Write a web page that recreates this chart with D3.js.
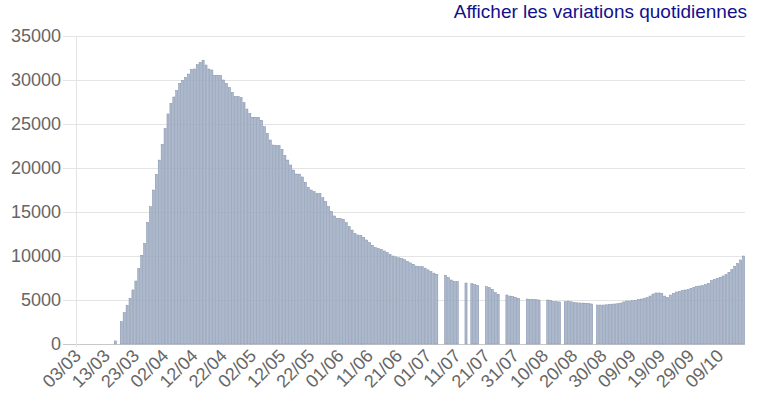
<!DOCTYPE html>
<html>
<head>
<meta charset="utf-8">
<script src="https://cdn.jsdelivr.net/npm/d3@7"></script>
<style>
  body { margin: 0; background: #fff; }
  svg { display: block; font-family: "Liberation Sans", Arial, sans-serif; }
</style>
</head>
<body>
<svg width="762" height="409"></svg>
<script>
// Daily hospitalised patients, one value per day from 03/03 (null = no report that day)
const valuesMar = [0, 0, 0, 0, 0, 0, 0, 0, 0, 0, 0, 0, 0, 350, 0, 2530, 3560, 4400, 5190, 6140,
  7160, 8600, 10080, 11440, 13830, 15600, 17500, 19280, 20900];
const valuesApr = [22690, 24500, 26140, 27350, 28070, 28790, 29620, 29960, 30300, 30680,
  31210, 31250, 31740, 32000, 32250, 31700, 31250, 31140, 30530, 30530,
  30530, 30000, 29620, 29130, 28600, 28140, 28140, 27990, 27420, 26700];
const valuesMay = [26210, 25760, 25760, 25760, 25420, 24690, 23940, 23180, 22610, 22580,
  22560, 22120, 21440, 20900, 20340, 19770, 19320, 19300, 18980, 18380,
  17800, 17500, 17310, 17120, 17100, 16630, 16170, 15600, 15040, 14550, 14280];
const valuesJun = [14260, 14170, 13790, 13330, 12950, 12580, 12390, 12350, 12120, 11820,
  11510, 11210, 10940, 10830, 10760, 10570, 10380, 10190, 10000, 9900,
  9800, 9700, 9580, 9400, 9220, 9050, 8850, 8800, 8790, 8620];
const valuesJul = [8420, 8230, 8050, 7920, null, null, 7800, 7540, 7270, 7120,
  7100, null, null, 6930, null, 6850, 6740, 6630, null, null,
  6510, 6400, 6210, 5830, 5650, null, null, 5570, 5450, 5380, 5300];
const valuesAug = [5190, null, null, 5110, 5080, 5080, 5040, 5000, null, null,
  5000, 4920, 4810, 4810, 4780, null, 4810, 4880, 4800, 4730,
  4680, 4660, 4650, 4620, 4580, 4550, null, 4430, 4430, 4430, 4460];
const valuesSep = [4500, 4530, 4550, 4580, 4650, 4780, 4890, 4890, 4920, 4960,
  5080, 5110, 5190, 5270, 5450, 5680, 5800, 5800, 5760, 5450,
  5300, 5570, 5760, 5910, 5980, 6100, 6140, 6210, 6330, 6440];
const valuesOct = [6510, 6590, 6630, 6740, 6900, 7200, 7350, 7460, 7580, 7730,
  7880, 8150, 8450, 8800, 9150, 9550, 10000];

const values = [].concat(valuesMar, valuesApr, valuesMay, valuesJun,
  valuesJul, valuesAug, valuesSep, valuesOct);

// Categories: one per day starting 3 March 2020
const firstDay = new Date(2020, 2, 3);
const days = d3.timeDay.range(firstDay, d3.timeDay.offset(firstDay, values.length));
const formatDay = d3.timeFormat("%d/%m");

// Tick labels shown under the axis (every 10th day)
const tickLabels = ["03/03", "13/03", "23/03", "02/04", "12/04", "22/04", "02/05", "12/05",
  "22/05", "01/06", "11/06", "21/06", "01/07", "11/07", "21/07", "31/07", "10/08",
  "20/08", "30/08", "09/09", "19/09", "29/09", "09/10"];
const yTicks = [0, 5000, 10000, 15000, 20000, 25000, 30000, 35000];

const data = days.map((d, i) => ({label: formatDay(d), value: values[i]}));

const svg = d3.select("svg");
const margin = {top: 36, right: 17, bottom: 65, left: 76};
const width = +svg.attr("width");
const height = +svg.attr("height");

const x = d3.scaleBand()
    .domain(data.map(d => d.label))
    .range([margin.left, width - margin.right])
    .paddingInner(0.28)
    .paddingOuter(0.14);

const y = d3.scaleLinear()
    .domain([0, 35000])
    .range([height - margin.bottom, margin.top]);

// Horizontal grid lines with small tick stubs left of the axis
svg.append("g")
  .selectAll("line")
  .data(yTicks)
  .enter().append("line")
    .attr("x1", margin.left - 13)
    .attr("x2", width - margin.right)
    .attr("y1", d => Math.round(y(d)) + 0.5)
    .attr("y2", d => Math.round(y(d)) + 0.5)
    .attr("stroke", d => d === 0 ? "#c8c8c8" : "#e4e4e4")
    .attr("stroke-width", 1);

// Vertical axis line
svg.append("line")
    .attr("x1", margin.left + 0.5)
    .attr("x2", margin.left + 0.5)
    .attr("y1", margin.top)
    .attr("y2", height - margin.bottom + 3)
    .attr("stroke", "#e4e4e4");

// Y tick labels
svg.append("g")
  .selectAll("text")
  .data(yTicks)
  .enter().append("text")
    .attr("x", margin.left - 15)
    .attr("y", d => y(d))
    .attr("dy", "0.35em")
    .attr("text-anchor", "end")
    .attr("font-size", "18px")
    .attr("fill", "#666")
    .text(d => d);

// Bars
svg.append("g")
  .selectAll("rect")
  .data(data.filter(d => d.value))
  .enter().append("rect")
    .attr("x", d => x(d.label))
    .attr("width", x.bandwidth())
    .attr("y", d => y(d.value))
    .attr("height", d => y(0) - y(d.value))
    .attr("fill", "#acb8cb")
    .attr("stroke", "#8090ab")
    .attr("stroke-width", 0.5);

// Rotated x labels
svg.append("g")
  .selectAll("text")
  .data(tickLabels)
  .enter().append("text")
    .attr("transform", d => {
      const cx = x(d) + x.bandwidth() / 2 + 4.5;
      return `translate(${cx},${height - margin.bottom + 13}) rotate(-45)`;
    })
    .attr("text-anchor", "end")
    .attr("font-size", "18px")
    .attr("fill", "#666")
    .text(d => d);

// Link-like caption top right
svg.append("text")
    .attr("x", 747)
    .attr("y", 18)
    .attr("text-anchor", "end")
    .attr("font-size", "19px")
    .attr("fill", "#11118c")
    .text("Afficher les variations quotidiennes");
</script>
</body>
</html>
